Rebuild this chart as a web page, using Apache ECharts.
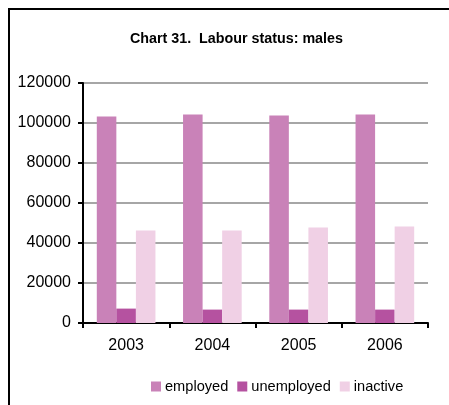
<!DOCTYPE html>
<html>
<head>
<meta charset="utf-8">
<script src="https://cdn.jsdelivr.net/npm/echarts@6/dist/echarts.min.js"></script>
<style>
  html, body { margin: 0; padding: 0; background: #fff; }
  #main { width: 449px; height: 405px; }
</style>
</head>
<body>
<div id="main"></div>
<script>
// chart 31 - labour status, males
var years = ['2003', '2004', '2005', '2006'];
var employed = [103200, 104200, 103700, 104200];
var unemployed = [7200, 6700, 6700, 6700];
var inactive = [46200, 46200, 47700, 48200];

var font = 'Liberation Sans, Arial, sans-serif';

var myChart = echarts.init(document.getElementById('main'));
option = {
    backgroundColor: '#fff',
    animation: false,
    title: {
        text: 'Chart 31.  Labour status: males',
        left: 125,
        top: 27,
        textStyle: { fontFamily: font, fontSize: 14.3, fontWeight: 'bold', color: '#000' }
    },
    graphic: [{
        type: 'polyline',
        shape: { points: [[9, 420], [9, 9], [460, 9]] },
        style: { stroke: '#000', lineWidth: 2, fill: null }
    }],
    legend: {
        left: 146,
        top: 374,
        itemWidth: 10,
        itemHeight: 10,
        itemGap: 9,
        icon: 'rect',
        textStyle: { fontFamily: font, fontSize: 14.6, color: '#000', padding: [0, 0, 0, -1] },
        data: ['employed', 'unemployed', 'inactive']
    },
    grid: {
        left: 83,
        right: 21,
        top: 83,
        bottom: 82,
        containLabel: false,
        outerBoundsMode: 'none'
    },
    xAxis: {
        type: 'category',
        data: years,
        axisLine: { lineStyle: { color: '#000', width: 2 } },
        axisTick: { show: true, alignWithLabel: false, length: 5, lineStyle: { color: '#000', width: 2 } },
        axisLabel: { fontFamily: font, fontSize: 16, color: '#000', margin: 15 }
    },
    yAxis: {
        type: 'value',
        min: 0,
        max: 120000,
        interval: 20000,
        axisLine: { show: true, lineStyle: { color: '#000', width: 2 } },
        axisTick: { show: true, length: 5, lineStyle: { color: '#000', width: 2 } },
        axisLabel: {
            fontFamily: font, fontSize: 16, color: '#000', margin: 12,
            formatter: function (v) { return String(v); }
        },
        splitLine: { lineStyle: { color: '#a6a6a6', width: 2 } }
    },
    series: [
        {
            name: 'employed',
            type: 'bar',
            data: employed,
            barGap: '0%',
            barCategoryGap: '32%',
            itemStyle: { color: '#c982b8' }
        },
        {
            name: 'unemployed',
            type: 'bar',
            data: unemployed,
            itemStyle: { color: '#b552a0' }
        },
        {
            name: 'inactive',
            type: 'bar',
            data: inactive,
            itemStyle: { color: '#f0d0e5' }
        }
    ]
};
myChart.setOption(option);
</script>
</body>
</html>
